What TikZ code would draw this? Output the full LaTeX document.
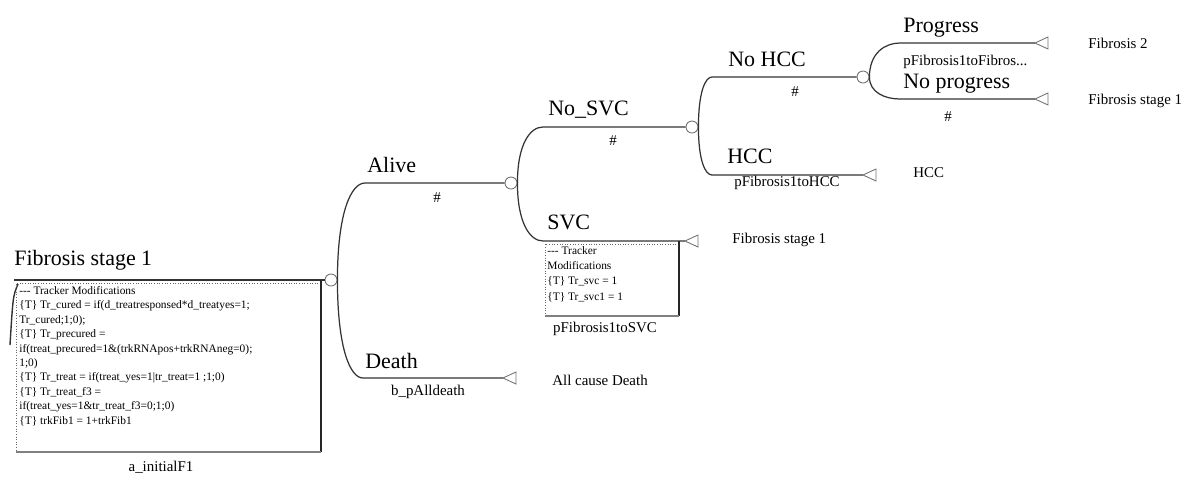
\documentclass[tikz,border=0pt]{standalone}
\usepackage{fontspec}
\setmainfont{Liberation Serif}
\usetikzlibrary{calc}
\tikzset{
  br/.style={draw=black!80, line width=0.7pt},
  chance/.style={circle, draw=black!55, line width=0.5pt, minimum size=0.24cm, inner sep=0pt},
  termtri/.style={draw=black!55, line width=0.5pt},
  biglab/.style={font=\fontsize{12.5}{14}\selectfont, inner sep=0pt, anchor=base west},
  smalllab/.style={font=\fontsize{8.5}{10}\selectfont, inner sep=0pt},
  boxtxt/.style={font=\fontsize{6.5}{8.2}\selectfont, inner sep=0pt, align=left, anchor=north west},
  boxdot/.style={densely dotted, draw=black!60, line width=0.5pt},
  boxright/.style={draw=black!85, line width=1.3pt},
  boxbottom/.style={draw=black!50, line width=1.2pt},
}
\newcommand\brpath[3]{\draw[br] (#1) .. controls ($(#1|-#2)!0.3!(#1)$) and ($(#1|-#2)!0.5!(#2)$) .. (#2) -- (#3);}
\newcommand\termat[1]{\draw[termtri] (#1) -- ++(13,-6) -- ++(0,12) -- cycle;}
\begin{document}
\begin{tikzpicture}[x=0.02cm,y=-0.02cm]
\path[use as bounding box] (0,0) rectangle (1193,487);
% chance nodes
\node[chance] (c0) at (331,280) {};
\node[chance] (c1) at (511,183) {};
\node[chance] (c2) at (692,127) {};
\node[chance] (c3) at (863,77) {};
% branch points
\coordinate (r0) at (14,280);
\coordinate (a0) at (365,183);
\coordinate (d0) at (363,378);
\coordinate (d1) at (503,378);
\coordinate (n0) at (543,127);
\coordinate (s0) at (543,241);
\coordinate (s1) at (685,241);
\coordinate (h0) at (712,77);
\coordinate (k0) at (712,175);
\coordinate (k1) at (863,175);
\coordinate (p0) at (900,43);
\coordinate (p1) at (1035,43);
\coordinate (q0) at (900,99);
\coordinate (q1) at (1035,99);
% connectors
\draw[br] (r0) -- (c0.west);
\brpath{c0.east}{a0}{c1.west}
\brpath{c0.east}{d0}{d1}
\termat{d1}
\brpath{c1.east}{n0}{c2.west}
\brpath{c1.east}{s0}{s1}
\termat{s1}
\brpath{c2.east}{h0}{c3.west}
\brpath{c2.east}{k0}{k1}
\termat{k1}
\brpath{c3.east}{p0}{p1}
\termat{p1}
\brpath{c3.east}{q0}{q1}
\termat{q1}
% left stroke
\draw[draw=black!80, line width=0.8pt] (18,284) .. controls (13,296) .. (10,345);
% big tracker box
\draw[boxdot] (321,283) -- (16,283) -- (16,452);
\draw[boxright] (321,280) -- (321,452);
\draw[boxbottom] (16,452) -- (321,452);
\node[boxtxt] (trk1) at (19,286) {-{}-{}- Tracker Modifications\\
\{T\} Tr\_cured = if(d\_treatresponsed*d\_treatyes=1;\\
Tr\_cured;1;0);\\
\{T\} Tr\_precured =\\
if(treat\_precured=1\&(trkRNApos+trkRNAneg=0);\\
1;0)\\
\{T\} Tr\_treat = if(treat\_yes=1|tr\_treat=1 ;1;0)\\
\{T\} Tr\_treat\_f3 =\\
if(treat\_yes=1\&tr\_treat\_f3=0;1;0)\\
\{T\} trkFib1 = 1+trkFib1};
% SVC tracker box
\draw[boxdot] (679,244) -- (545,244) -- (545,316);
\draw[boxright] (679,241) -- (679,316);
\draw[boxbottom] (545,316) -- (679,316);
\node[boxtxt, font=\fontsize{6.5}{8.7}\selectfont] (trk2) at (547,246) {-{}-{}- Tracker\\
Modifications\\
\{T\} Tr\_svc = 1\\
\{T\} Tr\_svc1 = 1};
% branch labels
\node[biglab] (lroot) at (14,265) {Fibrosis stage 1};
\node[biglab] (lalive) at (367,172) {Alive};
\node[biglab] (ldeath) at (365,368) {Death};
\node[biglab] (lnosvc) at (548,115) {No\_SVC};
\node[biglab] (lsvc) at (547,229) {SVC};
\node[biglab] (lnohcc) at (728,66) {No HCC};
\node[biglab] (lhcc) at (727,163) {HCC};
\node[biglab] (lprog) at (903,32) {Progress};
\node[biglab] (lnoprog) at (903,88) {No progress};
% probabilities
\node[smalllab] (h1) at (437,198) {\#};
\node[smalllab] (h2) at (613,141) {\#};
\node[smalllab] (h3) at (795,92) {\#};
\node[smalllab] (h4) at (948,117) {\#};
\node[smalllab] (pdeath) at (428,392) {b\_pAlldeath};
\node[smalllab] (psvc) at (605,329) {pFibrosis1toSVC};
\node[smalllab] (phcc) at (787,183) {pFibrosis1toHCC};
\node[smalllab, anchor=west] (pprog) at (903,62) {pFibrosis1toFibros...};
\node[smalllab] (pinit) at (161,467) {a\_initialF1};
% terminal labels
\node[smalllab, anchor=west] (tdeath) at (552,380) {All cause Death};
\node[smalllab, anchor=west] (tsvc) at (732,240) {Fibrosis stage 1};
\node[smalllab, anchor=west] (thcc) at (913,173) {HCC};
\node[smalllab, anchor=west] (tprog) at (1088,43) {Fibrosis 2};
\node[smalllab, anchor=west] (tnoprog) at (1088,101) {Fibrosis stage 1};
\end{tikzpicture}
\end{document}
